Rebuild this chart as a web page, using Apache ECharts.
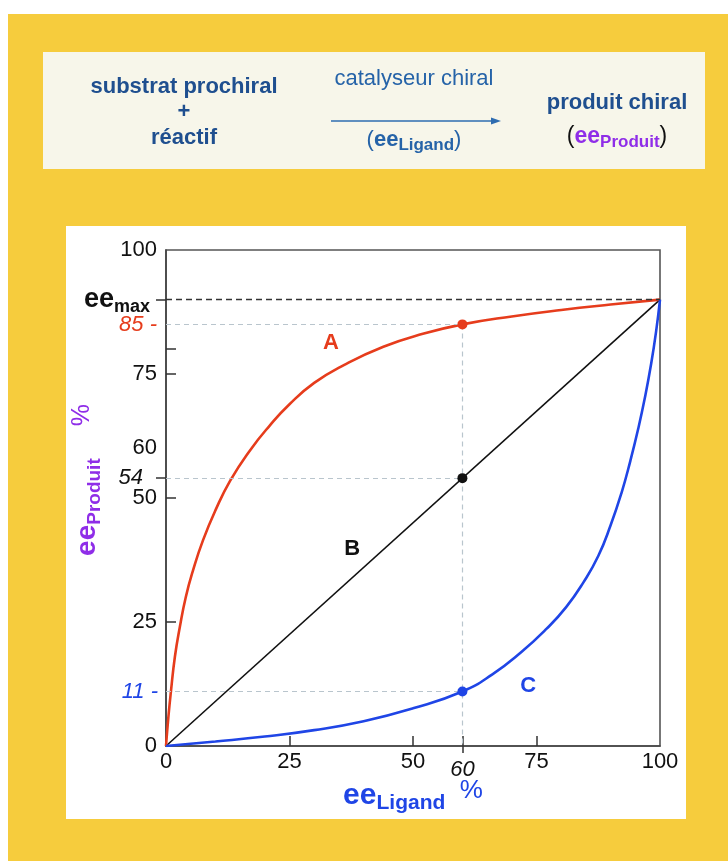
<!DOCTYPE html>
<html>
<head>
<meta charset="utf-8">
<script src="https://cdn.jsdelivr.net/npm/echarts@6/dist/echarts.min.js"></script>
<style>
  html, body { margin: 0; padding: 0; background: #ffffff; }
  #chart { width: 728px; height: 861px; }
</style>
</head>
<body>
<div id="chart"></div>
<script>
// ---------- data ----------
const curveA = [[0,0],[0.5,6],[1,11],[1.8,18],[2.8,24],[4,30],[5.5,35.5],[7.5,41.5],[10,47.5],[13,53.5],[17,59.6],[21,64.6],[25,68.9],[30,73.2],[36,76.8],[44,80.5],[52,83.1],[60,85],[70,86.6],[80,87.9],[90,89],[100,90]];
const curveB = [[0,0],[100,90]];
const curveC = [[0,0],[10,0.9],[20,1.9],[30,3.2],[40,5],[50,7.6],[60,11],[66,14.4],[72,19],[77,23.6],[81,28],[84.5,33],[87.5,38.3],[90,44.5],[92.2,51],[94,57.5],[95.6,64],[97,70.5],[98.2,77],[99.2,83.5],[100,90]];
const pointA = [60, 85];
const pointB = [60, 54];
const pointC = [60, 11];
const eeMax = 90;
const labelPosA = [33.4, 81.3];
const labelPosB = [37.7, 39.7];
const labelPosC = [73.3, 12.1];
const yLabelValues = [0, 25, 50, 60, 75, 100];
const yTickValues = [25, 50, 75, 80];
const yOuterTicks = [54, 90];
const xLabelValues = [0, 25, 50, 75, 100];
const xTickValues = [25, 50, 60, 75];
const xOuterTicks = [60];

const RED = '#e63c1c';
const BLUE = '#1f45e6';
const BLACK = '#111111';
const PURPLE = '#8f2de8';
const NAVY = '#1f4f8f';
const GUIDE = '#b9c5cd';
const FONT = '"Liberation Sans", Arial, Helvetica, sans-serif';

const chart = echarts.init(document.getElementById('chart'), null, { renderer: 'canvas' });

function guide(p, label, dist, color) {
  return [
    { coord: [0, p[1]], label: { show: !!label, formatter: label, position: 'start', distance: dist, color: color, fontStyle: 'italic', fontSize: 22, fontFamily: FONT } },
    { coord: [p[0], p[1]] }
  ];
}

const option = {
  animation: false,
  backgroundColor: '#ffffff',
  textStyle: { fontFamily: FONT },
  graphic: [
    { type: 'rect', z: -10, shape: { x: 8, y: 14, width: 720, height: 847 }, style: { fill: '#F6CC3D' } },
    { type: 'rect', z: -9, shape: { x: 43, y: 52, width: 662, height: 117 }, style: { fill: '#F7F6EA' } },
    { type: 'rect', z: -9, shape: { x: 66, y: 226, width: 620, height: 593 }, style: { fill: '#ffffff' } },
    { type: 'text', z: 5, style: { text: 'substrat prochiral\n+\nréactif', x: 184, y: 112, align: 'center', verticalAlign: 'middle', font: 'bold 22px ' + FONT, lineHeight: 25.5, fill: NAVY } },
    { type: 'text', z: 5, style: { text: 'catalyseur chiral', x: 414, y: 79, align: 'center', verticalAlign: 'middle', font: '22px ' + FONT, fill: '#2563a8' } },
    { type: 'line', z: 5, shape: { x1: 331, y1: 121, x2: 494, y2: 121 }, style: { stroke: '#2e6cb0', lineWidth: 1.5 } },
    { type: 'polygon', z: 5, shape: { points: [[501, 121], [491, 117.5], [491, 124.5]] }, style: { fill: '#2e6cb0' } },
    { type: 'text', z: 5, style: {
        text: '{p|(}{ee|ee}{sub|Ligand}{p|)}', x: 414, y: 140, align: 'center', verticalAlign: 'middle',
        rich: {
          p: { fontSize: 22, fontFamily: FONT, fill: '#2563a8', lineHeight: 28 },
          ee: { fontSize: 22, fontWeight: 'bold', fontFamily: FONT, fill: '#2563a8', lineHeight: 28 },
          sub: { fontSize: 17, fontWeight: 'bold', fontFamily: FONT, fill: '#2563a8', lineHeight: 15, verticalAlign: 'bottom' }
        } } },
    { type: 'text', z: 5, style: { text: 'produit chiral', x: 617, y: 103, align: 'center', verticalAlign: 'middle', font: 'bold 22px ' + FONT, fill: NAVY } },
    { type: 'text', z: 5, style: {
        text: '{p|(}{ee|ee}{sub|Produit}{p|)}', x: 617, y: 137, align: 'center', verticalAlign: 'middle',
        rich: {
          p: { fontSize: 23, fontFamily: FONT, fill: '#111', lineHeight: 28 },
          ee: { fontSize: 23, fontWeight: 'bold', fontFamily: FONT, fill: PURPLE, lineHeight: 28 },
          sub: { fontSize: 17, fontWeight: 'bold', fontFamily: FONT, fill: PURPLE, lineHeight: 15, verticalAlign: 'bottom' }
        } } }
  ],
  grid: { left: 166, top: 250, right: 68, bottom: 115, show: true, borderColor: '#555', borderWidth: 1.6, backgroundColor: 'transparent', containLabel: false },
  xAxis: [
    {
      type: 'value', min: 0, max: 100, position: 'bottom',
      axisLine: { show: true, lineStyle: { color: '#444', width: 1.6 } },
      axisTick: { show: true, inside: true, length: 10, customValues: xTickValues, lineStyle: { color: '#333', width: 1.5 } },
      axisLabel: { show: true, customValues: xLabelValues, fontSize: 22, color: BLACK, margin: 5, fontFamily: FONT },
      splitLine: { show: false },
      name: '{ee|ee}{sub|Ligand}{pct|  %}', nameLocation: 'middle', nameGap: 31,
      nameTextStyle: {
        rich: {
          ee: { fontSize: 30, fontWeight: 'bold', color: BLUE, lineHeight: 36, fontFamily: FONT },
          sub: { fontSize: 21, fontWeight: 'bold', color: BLUE, lineHeight: 18, verticalAlign: 'bottom', fontFamily: FONT },
          pct: { fontSize: 26, color: BLUE, lineHeight: 34, verticalAlign: 'top', fontFamily: FONT }
        }
      }
    },
    {
      type: 'value', min: 0, max: 100, position: 'bottom',
      axisLine: { show: false },
      axisTick: { show: true, inside: false, length: 7, customValues: xOuterTicks, lineStyle: { color: '#333', width: 1.5 } },
      axisLabel: { show: true, customValues: xOuterTicks, fontSize: 22, fontStyle: 'italic', color: BLACK, margin: 13, fontFamily: FONT },
      splitLine: { show: false }
    }
  ],
  yAxis: [
    {
      type: 'value', min: 0, max: 100, position: 'left',
      axisLine: { show: true, lineStyle: { color: '#444', width: 1.6 } },
      axisTick: { show: true, inside: true, length: 10, customValues: yTickValues, lineStyle: { color: '#333', width: 1.5 } },
      axisLabel: { show: true, customValues: yLabelValues, fontSize: 22, color: BLACK, margin: 9, fontFamily: FONT },
      splitLine: { show: false },
      name: '{pad|}{ee|ee}{sub|Produit}{gap|}{pct|%}', nameLocation: 'middle', nameGap: 62, nameRotate: 90,
      nameTextStyle: {
        rich: {
          pad: { width: 36, lineHeight: 10 },
          ee: { fontSize: 28, fontWeight: 'bold', color: PURPLE, lineHeight: 34, fontFamily: FONT },
          sub: { fontSize: 19, fontWeight: 'bold', color: PURPLE, lineHeight: 16, verticalAlign: 'bottom', fontFamily: FONT },
          gap: { width: 32, lineHeight: 10 },
          pct: { fontSize: 25, color: PURPLE, lineHeight: 32, verticalAlign: 'top', fontFamily: FONT }
        }
      }
    },
    {
      type: 'value', min: 0, max: 100, position: 'left',
      axisLine: { show: false },
      axisTick: { show: true, inside: false, length: 10, customValues: yOuterTicks, lineStyle: { color: '#333', width: 1.5 } },
      axisLabel: { show: false },
      splitLine: { show: false }
    }
  ],
  series: [
    {
      name: 'A', type: 'line', data: curveA, smooth: 0.5, showSymbol: false, z: 4,
      lineStyle: { color: RED, width: 2.6 },
      markLine: {
        silent: true, symbol: ['none', 'none'], animation: false,
        lineStyle: { color: GUIDE, type: [5, 4], width: 1.2 },
        data: [
          guide(pointA, '85 -', 9, RED),
          [{ coord: [pointA[0], pointA[1]], label: { show: false } }, { coord: [pointA[0], 0] }]
        ]
      }
    },
    {
      name: 'B', type: 'line', data: curveB, showSymbol: false, z: 3,
      lineStyle: { color: BLACK, width: 1.6 },
      markLine: {
        silent: true, symbol: ['none', 'none'], animation: false,
        lineStyle: { color: GUIDE, type: [5, 4], width: 1.2 },
        data: [
          guide(pointB, '54', 23, BLACK),
          [
            { coord: [0, eeMax], lineStyle: { color: '#333', type: [6, 4], width: 1.4 },
              label: { show: true, position: 'start', distance: 16, formatter: '{ee|ee}{sub|max}',
                rich: {
                  ee: { fontSize: 27, fontWeight: 'bold', color: BLACK, lineHeight: 32, fontFamily: FONT },
                  sub: { fontSize: 18, fontWeight: 'bold', color: BLACK, lineHeight: 15, verticalAlign: 'bottom', fontFamily: FONT }
                } } },
            { coord: [100, eeMax] }
          ]
        ]
      }
    },
    {
      name: 'C', type: 'line', data: curveC, smooth: 0.5, showSymbol: false, z: 4,
      lineStyle: { color: BLUE, width: 2.6 },
      markLine: {
        silent: true, symbol: ['none', 'none'], animation: false,
        lineStyle: { color: GUIDE, type: [5, 4], width: 1.2 },
        data: [ guide(pointC, '11 -', 8, BLUE) ]
      }
    },
    { type: 'scatter', data: [pointA], symbolSize: 10, itemStyle: { color: RED, opacity: 1 }, z: 6 },
    { type: 'scatter', data: [pointB], symbolSize: 10, itemStyle: { color: BLACK, opacity: 1 }, z: 6 },
    { type: 'scatter', data: [pointC], symbolSize: 10, itemStyle: { color: BLUE, opacity: 1 }, z: 6 },
    { type: 'scatter', data: [labelPosA], symbolSize: 0, silent: true, itemStyle: { opacity: 1 }, label: { show: true, position: 'inside', formatter: 'A', fontSize: 22, fontWeight: 'bold', color: RED, fontFamily: FONT } },
    { type: 'scatter', data: [labelPosB], symbolSize: 0, silent: true, itemStyle: { opacity: 1 }, label: { show: true, position: 'inside', formatter: 'B', fontSize: 22, fontWeight: 'bold', color: BLACK, fontFamily: FONT } },
    { type: 'scatter', data: [labelPosC], symbolSize: 0, silent: true, itemStyle: { opacity: 1 }, label: { show: true, position: 'inside', formatter: 'C', fontSize: 22, fontWeight: 'bold', color: BLUE, fontFamily: FONT } }
  ]
};
chart.setOption(option);
</script>
</body>
</html>
